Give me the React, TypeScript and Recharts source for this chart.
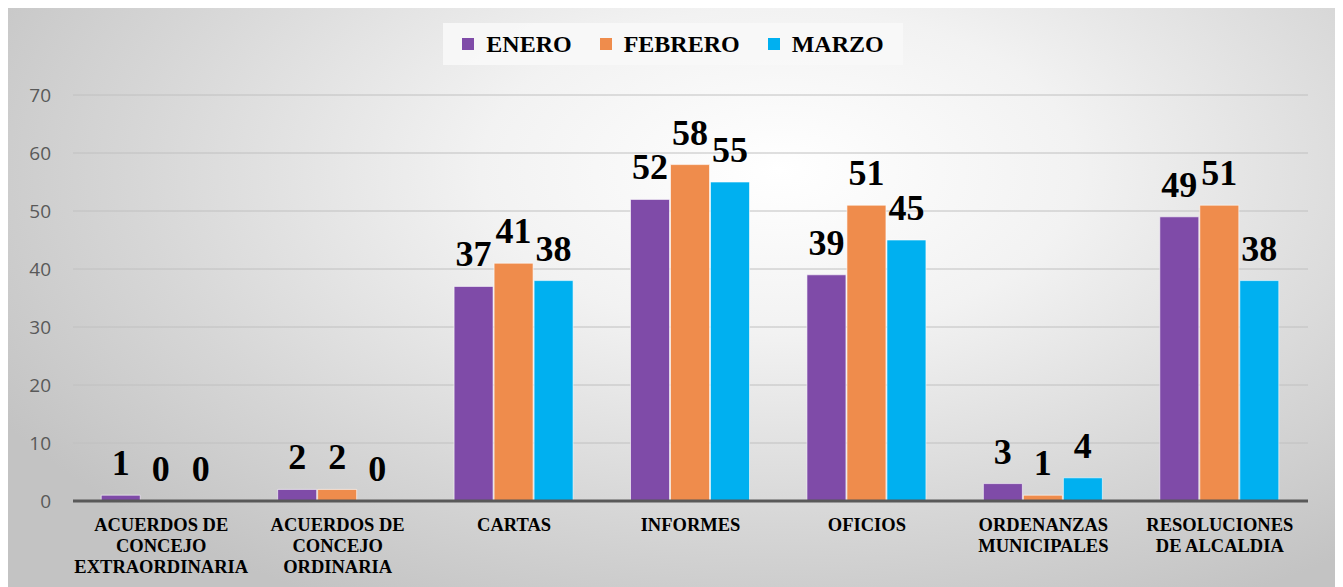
import { Bar, BarChart, CartesianGrid, LabelList, ReferenceLine, XAxis, YAxis } from "recharts"

const categories = [
  "ACUERDOS DE CONCEJO EXTRAORDINARIA",
  "ACUERDOS DE CONCEJO ORDINARIA",
  "CARTAS",
  "INFORMES",
  "OFICIOS",
  "ORDENANZAS MUNICIPALES",
  "RESOLUCIONES DE ALCALDIA",
]

// how each category label breaks into lines under the axis
const categoryLines = [
  ["ACUERDOS DE", "CONCEJO", "EXTRAORDINARIA"],
  ["ACUERDOS DE", "CONCEJO", "ORDINARIA"],
  ["CARTAS"],
  ["INFORMES"],
  ["OFICIOS"],
  ["ORDENANZAS", "MUNICIPALES"],
  ["RESOLUCIONES", "DE ALCALDIA"],
]

const enero = [1, 2, 37, 52, 39, 3, 49]
const febrero = [0, 2, 41, 58, 51, 1, 51]
const marzo = [0, 0, 38, 55, 45, 4, 38]

const yTicks = [0, 10, 20, 30, 40, 50, 60, 70]

const series = [
  { key: "enero", name: "ENERO", color: "#7f4ba8" },
  { key: "febrero", name: "FEBRERO", color: "#ef8c4c" },
  { key: "marzo", name: "MARZO", color: "#00b0f0" },
]

const data = categories.map((name, i) => ({
  name,
  enero: enero[i],
  febrero: febrero[i],
  marzo: marzo[i],
}))

const serif = "'Liberation Serif', 'Times New Roman', serif"

function CategoryTick({ x, y, index }: any) {
  const lines = categoryLines[index] || []
  return (
    <text x={x} y={y} textAnchor="middle" fontFamily={serif} fontWeight="bold" fontSize={18.5} fill="#000">
      {lines.map((line, i) => (
        <tspan key={i} x={x} dy={i === 0 ? 22 : 21}>
          {line}
        </tspan>
      ))}
    </text>
  )
}

function LegendBox() {
  return (
    <div
      style={{
        position: "absolute",
        left: 435,
        top: 15,
        display: "flex",
        justifyContent: "center",
        alignItems: "center",
        gap: 28,
        width: 460,
        height: 42,
        background: "rgba(248,248,248,0.9)",
        fontFamily: serif,
        fontWeight: "bold",
        fontSize: 24,
        color: "#000",
        zIndex: 2,
      }}
    >
      {series.map((s) => (
        <span key={s.key} style={{ display: "flex", alignItems: "center" }}>
          <span style={{ width: 12, height: 12, background: s.color, marginRight: 12, display: "inline-block" }} />
          {s.name}
        </span>
      ))}
    </div>
  )
}

// zero values still get a (hidden) bar so their label is drawn
const zeroKeeper = (value: number) => (value === 0 ? 0.01 : 0)

export default function App() {
  return (
    <div
      style={{
        position: "relative",
        width: 1330,
        height: 580,
        marginTop: -1,
        background: "radial-gradient(ellipse 68% 85% at 58% 28%, #ffffff 0%, #f2f2f2 33%, #d6d6d6 72%, #c3c3c3 100%)",
        borderTop: "1px solid #bdbdbd",
      }}
    >
      <LegendBox />
      <BarChart
        width={1330}
        height={580}
        data={data}
        margin={{ top: 87, right: 30, left: 0, bottom: 6 }}
        barCategoryGap="16%"
        barGap={1}
      >
        <CartesianGrid vertical={false} stroke="#c0c0c0" strokeWidth={1} />
        <XAxis dataKey="name" axisLine={false} tickLine={false} interval={0} height={81} tick={<CategoryTick />} />
        <YAxis
          domain={[0, 70]}
          ticks={yTicks}
          width={65}
          axisLine={false}
          tickLine={false}
          tickSize={0}
          tickMargin={22}
          tick={{ fill: "#595959", fontSize: 19, fontFamily: "'Open Sans', sans-serif" }}
        />
        {series.map((s) => (
          <Bar
            key={s.key}
            dataKey={s.key}
            name={s.name}
            fill={s.color}
            stroke="rgba(255,255,255,0.6)"
            strokeWidth={1}
            minPointSize={zeroKeeper}
            isAnimationActive={false}
          >
            <LabelList
              dataKey={s.key}
              position="top"
              offset={20}
              fill="#000"
              fontSize={36}
              fontWeight="bold"
              fontFamily={serif}
            />
          </Bar>
        ))}
        <ReferenceLine y={0} stroke="#595959" strokeWidth={3} />
      </BarChart>
    </div>
  )
}
